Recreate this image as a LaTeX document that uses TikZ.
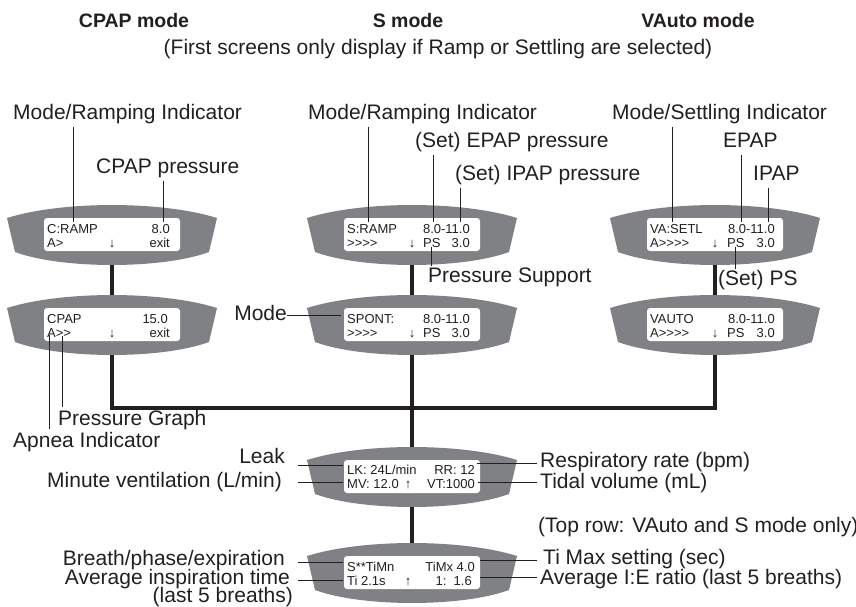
\documentclass[tikz,border=0pt]{standalone}
\usepackage{fontspec}
\setmainfont{Liberation Sans}
\newfontfamily\lcdfont{Liberation Sans}
\usetikzlibrary{positioning,calc}
\definecolor{ink}{RGB}{35,31,32}
\definecolor{bezelgray}{RGB}{128,129,133}
\tikzset{
    % Screens
    bezel/.style={fill=bezelgray},
    glass/.style={fill=white,rounded corners=3pt},
    lcd/.style={inner sep=0pt,font=\lcdfont\fontsize{13}{14}\selectfont,text=ink},
    %
    % Labels
    lbl/.style={inner sep=0pt,text depth=5pt,font=\fontsize{21}{24}\selectfont,text=ink},
    heading/.style={inner sep=0pt,font=\fontsize{19.5}{22}\selectfont\bfseries,text=ink},
    %
    % Lines
    link/.style={draw=ink,line width=3.3pt},
    leader/.style={draw=ink,line width=1pt}
}
% bezel and glass, #1 = top centre of the bezel
\newcommand{\lcdbezel}[1]{%
    \begin{scope}[shift={(#1)}]
        \fill[bezel] (-105,13) .. controls (-50,-4.3) and (50,-4.3) .. (105,13)
            -- (97,47) .. controls (50,64.3) and (-50,64.3) .. (-97,47) -- cycle;
        \fill[glass] (-68,13) rectangle (68,46);
    \end{scope}}

\begin{document}
\begin{tikzpicture}[x=1pt,y=-1pt]
    \useasboundingbox (0,0) rectangle (856,606);

    % top centres of the screens
    \coordinate (cA) at (112,205);
    \coordinate (cB) at (112,295);
    \coordinate (sA) at (412,205);
    \coordinate (sB) at (412,295);
    \coordinate (vA) at (715,205);
    \coordinate (vB) at (715,295);
    \coordinate (lk) at (412,447);
    \coordinate (ti) at (412,543);
    \coordinate (join) at (412,408);
    \coordinate (gutL) at (298,0);
    \coordinate (gutR) at (537,0);

    % links
    \draw[link] (cA) -- (cB);
    \draw[link] (sA) -- (sB);
    \draw[link] (vA) -- (vB);
    \draw[link] (cB) |- (join) -| (vB);
    \draw[link] (sB) -- (lk) -- (ti);

    \foreach \s in {cA,cB,sA,sB,vA,vB,lk,ti} {\lcdbezel{\s}}

    % screen texts
    \node[lcd,anchor=base west] (cA1) at ($(cA)+(-65,28)$) {C:RAMP};
    \node[lcd,anchor=base east] (cA2) at ($(cA)+(58,28)$) {8.0};
    \node[lcd,anchor=base west] (cA3) at ($(cA)+(-65,42)$) {A>};
    \node[lcd,anchor=base] (cA4) at ($(cA)+(0,42)$) {↓};
    \node[lcd,anchor=base east] (cA5) at ($(cA)+(58,42)$) {exit};

    \node[lcd,anchor=base west] (cB1) at ($(cB)+(-65,28)$) {CPAP};
    \node[lcd,anchor=base east] (cB2) at ($(cB)+(56,28)$) {15.0};
    \node[lcd,anchor=base west] (cB3) at ($(cB)+(-65,42)$) {A>>};
    \node[lcd,anchor=base] (cB4) at ($(cB)+(0,42)$) {↓};
    \node[lcd,anchor=base east] (cB5) at ($(cB)+(58,42)$) {exit};

    \node[lcd,anchor=base west] (sA1) at ($(sA)+(-65,28)$) {S:RAMP};
    \node[lcd,anchor=base east] (sA2) at ($(sA)+(58,28)$) {8.0-11.0};
    \node[lcd,anchor=base west] (sA3) at ($(sA)+(-65,42)$) {>>>>};
    \node[lcd,anchor=base] (sA4) at ($(sA)+(0,42)$) {↓};
    \node[lcd,anchor=base west] (sA5) at ($(sA)+(11,42)$) {PS};
    \node[lcd,anchor=base east] (sA6) at ($(sA)+(58,42)$) {3.0};

    \node[lcd,anchor=base west] (sB1) at ($(sB)+(-65,28)$) {SPONT:};
    \node[lcd,anchor=base east] (sB2) at ($(sB)+(58,28)$) {8.0-11.0};
    \node[lcd,anchor=base west] (sB3) at ($(sB)+(-65,42)$) {>>>>};
    \node[lcd,anchor=base] (sB4) at ($(sB)+(0,42)$) {↓};
    \node[lcd,anchor=base west] (sB5) at ($(sB)+(11,42)$) {PS};
    \node[lcd,anchor=base east] (sB6) at ($(sB)+(58,42)$) {3.0};

    \node[lcd,anchor=base west] (vA1) at ($(vA)+(-65,28)$) {VA:SETL};
    \node[lcd,anchor=base east] (vA2) at ($(vA)+(60,28)$) {8.0-11.0};
    \node[lcd,anchor=base west] (vA3) at ($(vA)+(-65,42)$) {A>>>>};
    \node[lcd,anchor=base] (vA4) at ($(vA)+(0,42)$) {↓};
    \node[lcd,anchor=base west] (vA5) at ($(vA)+(12,42)$) {PS};
    \node[lcd,anchor=base east] (vA6) at ($(vA)+(60,42)$) {3.0};

    \node[lcd,anchor=base west] (vB1) at ($(vB)+(-65,28)$) {VAUTO};
    \node[lcd,anchor=base east] (vB2) at ($(vB)+(60,28)$) {8.0-11.0};
    \node[lcd,anchor=base west] (vB3) at ($(vB)+(-65,42)$) {A>>>>};
    \node[lcd,anchor=base] (vB4) at ($(vB)+(0,42)$) {↓};
    \node[lcd,anchor=base west] (vB5) at ($(vB)+(12,42)$) {PS};
    \node[lcd,anchor=base east] (vB6) at ($(vB)+(60,42)$) {3.0};

    \node[lcd,anchor=base west] (lk1) at ($(lk)+(-65,27)$) {LK: 24L/min};
    \node[lcd,anchor=base east] (lk2) at ($(lk)+(63,27)$) {RR: 12};
    \node[lcd,anchor=base west] (lk3) at ($(lk)+(-65,41)$) {MV: 12.0};
    \node[lcd,anchor=base] (lk4) at ($(lk)+(-4,41)$) {↑};
    \node[lcd,anchor=base east] (lk5) at ($(lk)+(63,41)$) {VT:1000};

    \node[lcd,anchor=base west] (ti1) at ($(ti)+(-65,28)$) {S**TiMn};
    \node[lcd,anchor=base east] (ti2) at ($(ti)+(63,28)$) {TiMx 4.0};
    \node[lcd,anchor=base west] (ti3) at ($(ti)+(-65,42)$) {Ti 2.1s};
    \node[lcd,anchor=base] (ti4) at ($(ti)+(-4,42)$) {↑};
    \node[lcd,anchor=base east] (ti5) at ($(ti)+(60,42)$) {1:\ \ 1.6};

    % headings
    \node[heading,anchor=base] (hcpap) at (134,27) {CPAP mode};
    \node[heading,anchor=base] (hs) at (408,27) {S mode};
    \node[heading,anchor=base] (hvauto) at (698,27) {VAuto mode};
    \node[lbl,anchor=base] (note) at (438,54) {(First screens only display if Ramp or Settling are selected)};

    % labels above the first screens
    \node[lbl,anchor=base west] (cAmode) at (13,119) {Mode/Ramping Indicator};
    \node[lbl,anchor=base west] (cApres) at (96,173) {CPAP pressure};
    \node[lbl,anchor=base west] (sAmode) at (308,119) {Mode/Ramping Indicator};
    \node[lbl,anchor=base west] (sAepap) at (415,147) {(Set) EPAP pressure};
    \node[lbl,anchor=base west] (sAipap) at (455,180) {(Set) IPAP pressure};
    \node[lbl,anchor=base west] (vAmode) at (612,119) {Mode/Settling Indicator};
    \node[lbl,anchor=base west] (vAepap) at (723,147) {EPAP};
    \node[lbl,anchor=base west] (vAipap) at (753,180) {IPAP};

    \coordinate (cAmode-end) at (73,222);
    \coordinate (cApres-end) at (163,222);
    \coordinate (sAmode-end) at (368,222);
    \coordinate (sAepap-end) at (433,222);
    \coordinate (sAipap-end) at (460,222);
    \coordinate (vAmode-end) at (672,222);
    \coordinate (vAepap-end) at (741,222);
    \coordinate (vAipap-end) at (768,222);
    \foreach \l in {cAmode,cApres,sAmode,sAepap,sAipap,vAmode,vAepap,vAipap}
        \draw[leader,shorten <=3pt] (\l.south -| \l-end) -- (\l-end);

    % labels between the rows
    \node[lbl,anchor=base west] (sAps) at (428,282) {Pressure Support};
    \node[lbl,anchor=base west] (vAps) at (718,285) {(Set) PS};
    \draw[leader,shorten >=1pt] (sA5.south) -- (sA5.south |- sAps.north);
    \draw[leader,shorten >=1pt] (vA5.south) -- (vA5.south |- vAps.north);

    \node[lbl,anchor=base east] (sBmode) at (287,320) {Mode};
    \coordinate (sBmode-end) at (341,315);
    \draw[leader] (sBmode.east |- sBmode-end) -- (sBmode-end);

    \node[lbl,anchor=base west] (cBgraph) at (58,425) {Pressure Graph};
    \node[lbl,anchor=base west] (cBapnea) at (13,447) {Apnea Indicator};
    \coordinate (cBgraph-end) at (62,336);
    \coordinate (cBapnea-end) at (49,335);
    \draw[leader,shorten >=3pt] (cBgraph-end) -- (cBgraph-end |- cBgraph.north);
    \draw[leader,shorten >=3pt] (cBapnea-end) -- (cBapnea-end |- cBapnea.north);

    % labels round the lower screens
    \node[lbl,anchor=base east] (leak) at (285,463) {Leak};
    \node[lbl,anchor=base east] (mv) at (282,487) {Minute ventilation (L/min)};
    \node[lbl,anchor=base west] (rr) at (540,467) {Respiratory rate (bpm)};
    \node[lbl,anchor=base west] (vt) at (540,488) {Tidal volume (mL)};
    \node[lbl,anchor=base west] (toprow) at (538,532) {(Top row: VAuto and S mode only)};
    \node[lbl,anchor=base east] (breath) at (285,565) {Breath/phase/expiration};
    \node[lbl,anchor=base east] (avgti) at (290,584) {Average inspiration time};
    \node[lbl,anchor=base east] (avgti2) at (293,602) {(last 5 breaths)};
    \node[lbl,anchor=base west] (timax) at (543,564) {Ti Max setting (sec)};
    \node[lbl,anchor=base west] (ieratio) at (540,584) {Average I:E ratio (last 5 breaths)};

    \coordinate (leak-end) at (343,465);
    \coordinate (mv-end) at (343,482);
    \coordinate (breath-end) at (343,562);
    \coordinate (avgti-end) at (343,580);
    \foreach \l in {leak,mv,breath,avgti}
        \draw[leader] (gutL |- \l-end) -- (\l-end);
    \coordinate (rr-end) at (477,463);
    \coordinate (vt-end) at (478,482);
    \coordinate (timax-end) at (480,560);
    \coordinate (ieratio-end) at (480,577);
    \foreach \l in {rr,vt,timax,ieratio}
        \draw[leader] (\l-end) -- (gutR |- \l-end);
\end{tikzpicture}
\end{document}
